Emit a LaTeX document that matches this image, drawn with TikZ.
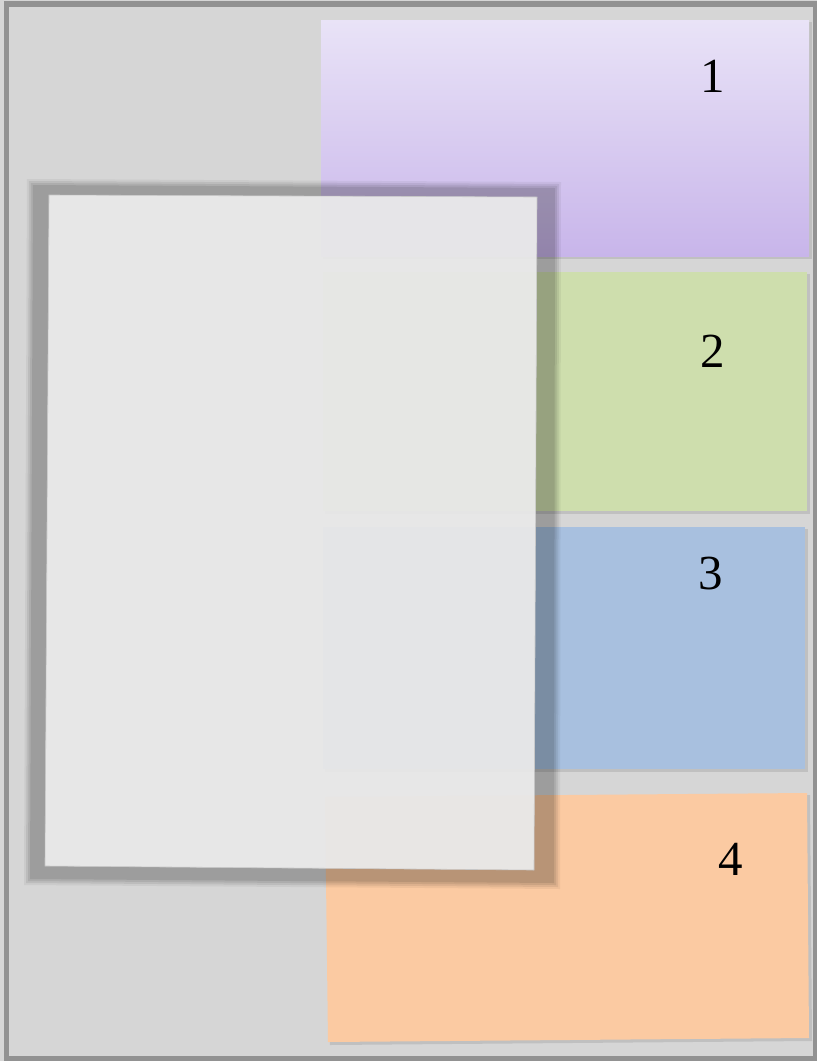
\documentclass[tikz,border=0pt]{standalone}
\usepackage{fontspec}
\setmainfont{Liberation Serif}
\usetikzlibrary{shadings}
\definecolor{bggray}{HTML}{D6D6D6}
\definecolor{framegray}{HTML}{929292}
\definecolor{purpletop}{HTML}{E9E3F7}
\definecolor{purplebot}{HTML}{C8B5EA}
\definecolor{greenbox}{HTML}{CEDEAD}
\definecolor{bluebox}{HTML}{A8C0DF}
\definecolor{orangebox}{HTML}{FBCAA2}
\definecolor{panelfill}{HTML}{E8E8E8}
\tikzset{
  boxshadow/.style={fill=black, fill opacity=0.10},
  panelshadow/.style={fill=black, even odd rule},
  numlabel/.style={font=\fontsize{49}{52}\selectfont, inner sep=0pt}
}
\begin{document}
\begin{tikzpicture}[x=1pt,y=-1pt]
\useasboundingbox (0,0) rectangle (817,1061);
\fill[bggray] (0,0) rectangle (817,1061);
\draw[framegray, line width=5.5pt] (6.5,4) rectangle (816,1059);
% shadows of coloured boxes
\fill[boxshadow] (323,22) rectangle (812,259);
\fill[boxshadow] (325,274) rectangle (810,514);
\fill[boxshadow] (325,529) rectangle (808,772);
\fill[boxshadow] (327,799) -- (810,795) -- (812,1041) -- (330,1045) -- cycle;
% coloured boxes
\shade[top color=purpletop, bottom color=purplebot] (321,20) rectangle (809,256);
\fill[greenbox] (323,272) rectangle (807,511);
\fill[bluebox] (323,527) rectangle (805,769);
\fill[orangebox] (325,797) -- (807,793) -- (809,1038) -- (328,1042) -- cycle;
\node[numlabel] (n1) at (713,76) {1};
\node[numlabel] (n2) at (713,351) {2};
\node[numlabel] (n3) at (711,574) {3};
\node[numlabel] (n4) at (731,859) {4};
% panel shadow (ring round the panel)
\path[panelshadow, fill opacity=0.05] (27,179) -- (561,182) -- (560,889) -- (24,885) -- cycle
   (49,195) -- (537,197) -- (534,870) -- (45,866) -- cycle;
\path[panelshadow, fill opacity=0.07] (29,181) -- (559,184) -- (558,887) -- (26,883) -- cycle
   (49,195) -- (537,197) -- (534,870) -- (45,866) -- cycle;
\path[panelshadow, fill opacity=0.08] (31,183) -- (557,186) -- (556,885) -- (28,881) -- cycle
   (49,195) -- (537,197) -- (534,870) -- (45,866) -- cycle;
\path[panelshadow, fill opacity=0.09] (33,185) -- (555,188) -- (554,883) -- (30,879) -- cycle
   (49,195) -- (537,197) -- (534,870) -- (45,866) -- cycle;
% panel
\fill[panelfill, fill opacity=0.95] (49,195) -- (537,197) -- (534,870) -- (45,866) -- cycle;
\draw[black!22, line width=0.6pt] (49,195) -- (537,197) -- (534,870) -- (45,866) -- cycle;
\end{tikzpicture}
\end{document}
